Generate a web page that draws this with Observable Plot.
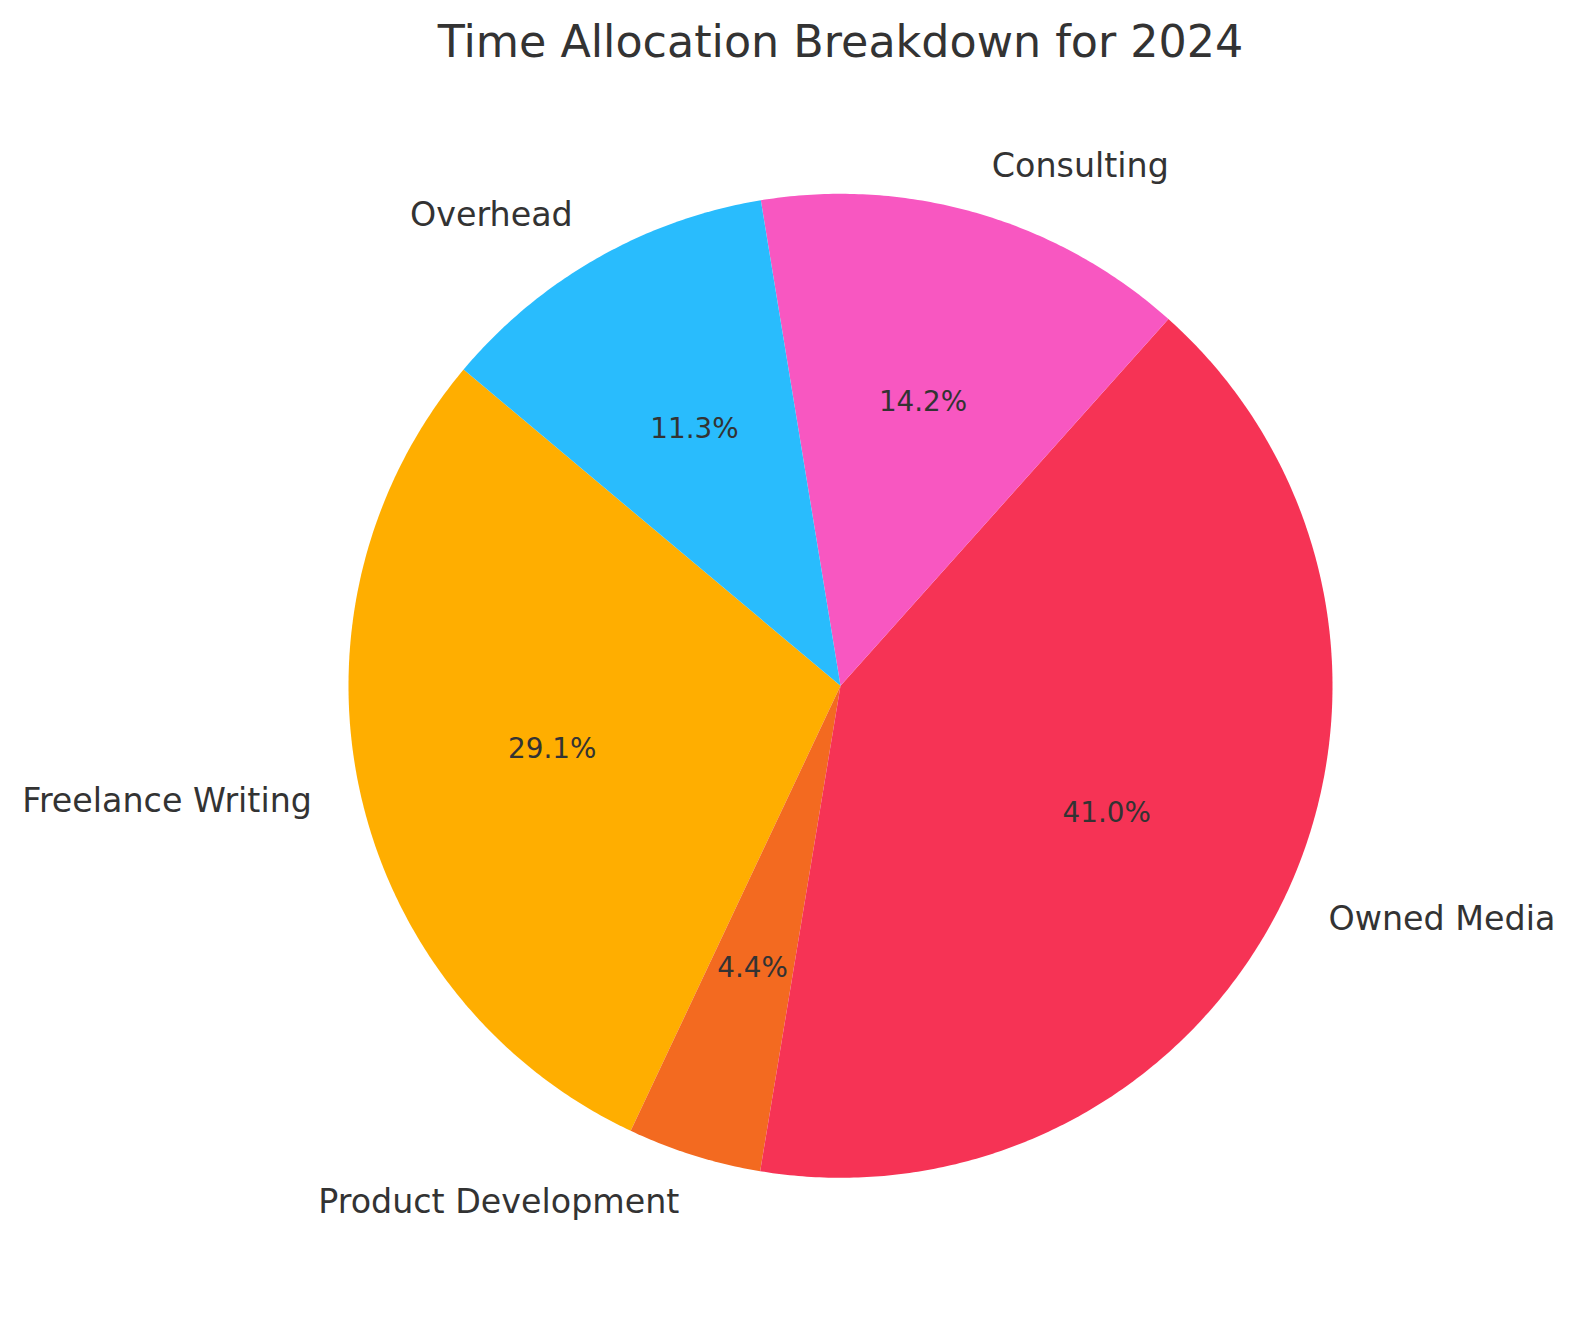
<!DOCTYPE html>
<html>
<head>
<meta charset="utf-8">
<script src="https://cdn.jsdelivr.net/npm/d3@7"></script>
<script src="https://cdn.jsdelivr.net/npm/@observablehq/plot@0.6"></script>
<style>
  html, body { margin: 0; padding: 0; background: #fff; }
  #chart svg { display: block; }
</style>
</head>
<body>
<div id="chart"></div>
<script>
// Data (order as drawn counter-clockwise, starting at 140°)
const categories = ["Freelance Writing", "Product Development", "Owned Media", "Consulting", "Overhead"];
const percentages = [29.1, 4.4, 41.0, 14.2, 11.3];
const colors = ["#FFAE00", "#F36A20", "#F63355", "#F857C1", "#29BCFD"];
const titleText = "Time Allocation Breakdown for 2024";
const startAngle = 140; // degrees, counter-clockwise from 3 o'clock

const total = d3.sum(percentages);
const rad = Math.PI / 180;

// Build wedge outlines in unit-circle data space
const wedges = [];
const labels = [];
let acc = startAngle;
categories.forEach((cat, i) => {
  const span = percentages[i] / total * 360;
  const a0 = acc, a1 = acc + span;
  const n = Math.max(2, Math.ceil(span * 2));
  wedges.push({cat, px: 0, py: 0});
  for (let k = 0; k <= n; k++) {
    const a = (a0 + (a1 - a0) * k / n) * rad;
    wedges.push({cat, px: Math.cos(a), py: Math.sin(a)});
  }
  wedges.push({cat, px: 0, py: 0});
  const mid = (a0 + a1) / 2 * rad;
  labels.push({
    cat,
    pct: percentages[i].toFixed(1) + "%",
    lx: 1.1 * Math.cos(mid), ly: 1.1 * Math.sin(mid),
    tx: 0.6 * Math.cos(mid), ty: 0.6 * Math.sin(mid)
  });
  acc = a1;
});

const W = 1575, H = 1322;
const cx = 840, cy = 685.3, R = 492;
const font = "DejaVu Sans";

const chart = Plot.plot({
  width: W,
  height: H,
  margin: 0,
  style: {fontFamily: font, background: "#fff"},
  x: {domain: [-1, 1], range: [cx - R, cx + R], axis: null},
  y: {domain: [-1, 1], range: [cy + R, cy - R], axis: null},
  color: {domain: categories, range: colors},
  marks: [
    Plot.line(wedges, {x: "px", y: "py", z: "cat", fill: "cat", stroke: "none", curve: "linear"}),
    Plot.text(labels.filter(d => d.lx >= 0), {x: "lx", y: "ly", text: "cat", textAnchor: "start", lineAnchor: "middle", fontSize: 33.3, fill: "#333333"}),
    Plot.text(labels.filter(d => d.lx < 0), {x: "lx", y: "ly", text: "cat", textAnchor: "end", lineAnchor: "middle", fontSize: 33.3, fill: "#333333"}),
    Plot.text(labels, {x: "tx", y: "ty", text: "pct", textAnchor: "middle", lineAnchor: "middle", fontSize: 27.8, fill: "#333333"}),
    Plot.text([titleText], {frameAnchor: "top", dx: cx - W / 2, dy: 42, lineAnchor: "middle", fontSize: 44.4, fill: "#333333"})
  ]
});
document.getElementById("chart").appendChild(chart);
</script>
</body>
</html>
